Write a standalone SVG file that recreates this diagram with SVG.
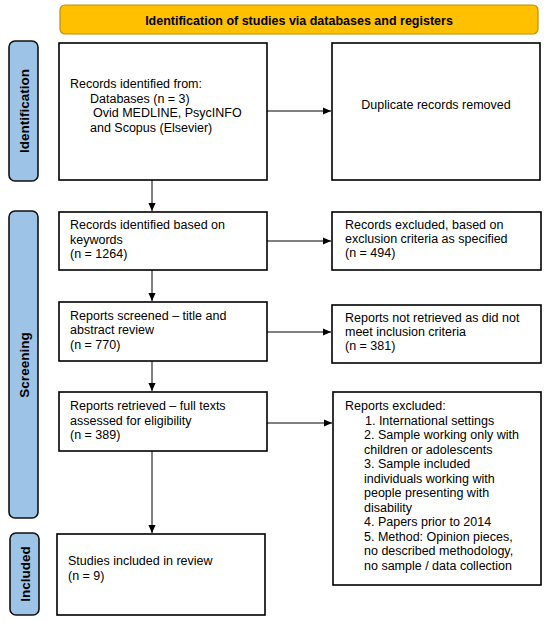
<svg xmlns="http://www.w3.org/2000/svg" width="550" height="622" viewBox="0 0 550 622">
<defs>
<style>
text{font-family:"Liberation Sans",Arial,sans-serif;font-size:12.5px;fill:#000}
.box{fill:#fff;stroke:#000;stroke-width:1.6}
.side{fill:#9DC3E6;stroke:#111;stroke-width:1.6}
.bold{font-weight:bold}
.sidet{font-weight:bold;font-size:13.5px}
.con{stroke:#000;stroke-width:1;fill:none;marker-end:url(#ah)}
</style>
<marker id="ah" viewBox="0 0 10 10" refX="10" refY="5" markerWidth="8" markerHeight="8" markerUnits="userSpaceOnUse" orient="auto">
<path d="M0,0.5 L10,5 L0,9.5 z" fill="#000"/>
</marker>
</defs>
<rect width="550" height="622" fill="#fff"/>
<g id="banner">
<rect x="60" y="5" width="478" height="29" rx="5" fill="#FFC000" stroke="#BF9000" stroke-width="1.2"/>
<text class="bold" x="299" y="24.5" text-anchor="middle">Identification of studies via databases and registers</text>
</g>
<g id="side-identification">
<rect class="side" x="9" y="41" width="29" height="140" rx="6"/>
<text class="sidet" transform="translate(28.5,111) rotate(-90)" text-anchor="middle">Identification</text>
</g>
<g id="side-screening">
<rect class="side" x="9" y="211" width="29" height="307" rx="6"/>
<text class="sidet" transform="translate(28.5,365) rotate(-90)" text-anchor="middle">Screening</text>
</g>
<g id="side-included">
<rect class="side" x="10" y="533" width="29" height="82" rx="6"/>
<text class="sidet" transform="translate(29.5,574) rotate(-90)" text-anchor="middle">Included</text>
</g>
<g id="records-identified">
<rect class="box" x="59" y="43" width="208" height="137"/>
<text x="70" y="88">Records identified from:</text>
<text x="90" y="102.5">Databases (n = 3)</text>
<text x="93" y="117">Ovid MEDLINE, PsycINFO</text>
<text x="90" y="131.5">and Scopus (Elsevier)</text>
</g>
<g id="duplicates">
<rect class="box" x="332" y="43" width="208" height="137"/>
<text x="436" y="109" text-anchor="middle">Duplicate records removed</text>
</g>
<g id="records-keywords">
<rect class="box" x="59" y="212" width="208" height="58"/>
<text x="70" y="229">Records identified based on</text>
<text x="70" y="243.5">keywords</text>
<text x="70" y="258">(n = 1264)</text>
</g>
<g id="records-excluded">
<rect class="box" x="332" y="212" width="209" height="58"/>
<text x="345" y="228.5">Records excluded, based on</text>
<text x="345" y="243">exclusion criteria as specified</text>
<text x="345" y="257">(n = 494)</text>
</g>
<g id="reports-screened">
<rect class="box" x="59" y="302" width="208" height="59"/>
<text x="70" y="320">Reports screened – title and</text>
<text x="70" y="334">abstract review</text>
<text x="70" y="348.5">(n = 770)</text>
</g>
<g id="reports-not-retrieved">
<rect class="box" x="332" y="305" width="209" height="58"/>
<text x="345" y="321.5">Reports not retrieved as did not</text>
<text x="345" y="335.5">meet inclusion criteria</text>
<text x="345" y="350">(n = 381)</text>
</g>
<g id="reports-retrieved">
<rect class="box" x="59" y="392" width="208" height="59"/>
<text x="70" y="410">Reports retrieved – full texts</text>
<text x="70" y="424.5">assessed for eligibility</text>
<text x="70" y="439">(n = 389)</text>
</g>
<g id="reports-excluded">
<rect class="box" x="333" y="392" width="208" height="193"/>
<text x="345" y="410">Reports excluded:</text>
<text x="365" y="424.5">1. International settings</text>
<text x="364" y="439">2. Sample working only with</text>
<text x="364" y="453.5">children or adolescents</text>
<text x="364" y="468">3. Sample included</text>
<text x="364" y="482.5">individuals working with</text>
<text x="364" y="497">people presenting with</text>
<text x="364" y="511.5">disability</text>
<text x="364" y="526">4. Papers prior to 2014</text>
<text x="364" y="540.5">5. Method: Opinion pieces,</text>
<text x="364" y="555">no described methodology,</text>
<text x="364" y="569.5">no sample / data collection</text>
</g>
<g id="studies-included">
<rect class="box" x="57" y="534" width="208" height="81"/>
<text x="68" y="565">Studies included in review</text>
<text x="68" y="579.5">(n = 9)</text>
</g>
<g id="connectors">
<line class="con" x1="267" y1="111" x2="331" y2="111"/>
<line class="con" x1="152" y1="180" x2="152" y2="211"/>
<line class="con" x1="267" y1="241" x2="331" y2="241"/>
<line class="con" x1="152" y1="270" x2="152" y2="301"/>
<line class="con" x1="267" y1="332" x2="331" y2="332"/>
<line class="con" x1="152" y1="361" x2="152" y2="391"/>
<line class="con" x1="267" y1="423" x2="332" y2="423"/>
<line class="con" x1="152" y1="451" x2="152" y2="533"/>
</g>
</svg>
